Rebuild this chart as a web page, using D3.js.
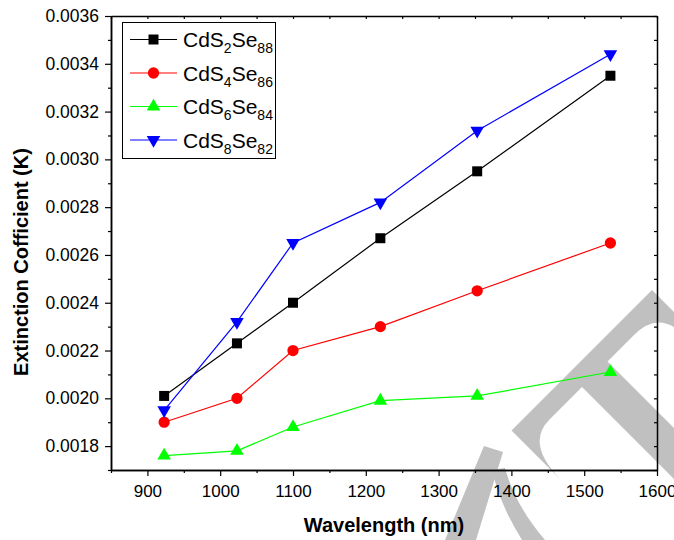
<!DOCTYPE html>
<html><head><meta charset="utf-8">
<script src="https://cdnjs.cloudflare.com/ajax/libs/d3/7.8.5/d3.min.js"></script>
<style>
html,body{margin:0;padding:0;background:#fff;}
svg{display:block;}
text{font-family:"Liberation Sans",Arial,sans-serif;}
</style></head>
<body>
<svg id="chart" width="674" height="540"></svg>
<script>
// ---- data ----
const wavelength = [923, 1023, 1100, 1220, 1353, 1536];
const cds2se88 = [0.00201, 0.00223, 0.00240, 0.00267, 0.00295, 0.00335];
const cds4se86 = [0.00190, 0.00200, 0.00220, 0.00230, 0.00245, 0.00265];
const cds6se84 = [0.00176, 0.00178, 0.00188, 0.00199, 0.00201, 0.00211];
const cds8se82 = [0.00195, 0.00232, 0.00265, 0.00282, 0.00312, 0.00344];
const sSub = ["2", "4", "6", "8"];
const seSub = ["88", "86", "84", "82"];
const xMajorTicks = [900, 1000, 1100, 1200, 1300, 1400, 1500, 1600];
const xMinorTicks = [850, 950, 1050, 1150, 1250, 1350, 1450, 1550];
const yMajorTicks = [0.0018, 0.0020, 0.0022, 0.0024, 0.0026, 0.0028, 0.0030, 0.0032, 0.0034, 0.0036];
const yMinorTicks = [0.0017, 0.0019, 0.0021, 0.0023, 0.0025, 0.0027, 0.0029, 0.0031, 0.0033, 0.0035];
const xTitle = "Wavelength (nm)";
const yTitle = "Extinction Cofficient (K)";

const series = [
  {values: cds2se88, color: "#000000", symbol: d3.symbolSquare, size: 100, rot: 0},
  {values: cds4se86, color: "#ff0000", symbol: d3.symbolCircle, size: 100, rot: 0},
  {values: cds6se84, color: "#00ff00", symbol: d3.symbolTriangle, size: 80, rot: 0},
  {values: cds8se82, color: "#0000ff", symbol: d3.symbolTriangle, size: 80, rot: 180}
];

const svg = d3.select("#chart");
const L = 111, R = 657, T = 16, B = 470;
const x = d3.scaleLinear().domain([850, 1600]).range([L, R]);
const y = d3.scaleLinear().domain([0.0017, 0.0036]).range([B, T]);

// ---- watermark (background decoration) ----
const P = (p, q) => [(q + p) / 2, (q - p) / 2];
const wm = svg.append("g").attr("fill", "#c0c0c0");
{
  const a = P(81, 942), b = P(81, 1042), cc = P(81, 969), c = P(130, 969),
        d = P(195, 969), e = P(195, 1400), f = P(246, 1400), g = P(246, 969),
        h = P(299, 969), hc = P(349, 969), i = P(349, 1019), j = P(349, 1250),
        k = P(362, 1250), l = P(362, 942);
  const path = `M${a}L${b}Q${cc} ${c}L${d}L${e}L${f}L${g}L${h}Q${hc} ${i}L${j}L${k}L${l}Z`;
  wm.append("path").attr("d", path);
  wm.append("path").attr("d", "M484,446L503,452L476,540L445,540Z");
  wm.append("path").attr("d", "M492,470Q500,505 522,540L545,540Q515,505 505,468Z");
}

// ---- axes ----
const axisStyle = fs => g => {
  g.selectAll(".domain").attr("stroke", "#000").attr("stroke-width", 1.5);
  g.selectAll(".tick line").attr("stroke", "#000").attr("stroke-width", 1.2);
  g.selectAll(".tick text").attr("fill", "#000").style("font-size", fs)
    .style("font-family", '"Liberation Sans",Arial,sans-serif');
};

// bottom
svg.append("g").attr("transform", `translate(0,${B})`)
  .call(d3.axisBottom(x).tickValues(xMinorTicks).tickSize(3).tickFormat("").tickSizeOuter(0))
  .call(axisStyle("17px"));
svg.append("g").attr("transform", `translate(0,${B})`)
  .call(d3.axisBottom(x).tickValues(xMajorTicks).tickSize(6).tickPadding(9).tickFormat(d3.format("d")).tickSizeOuter(0))
  .call(axisStyle("17px"));
// top (inward)
svg.append("g").attr("transform", `translate(0,${T})`)
  .call(d3.axisBottom(x).tickValues(xMinorTicks.concat(xMajorTicks)).tickSize(3).tickFormat("").tickSizeOuter(0))
  .call(axisStyle("17px"));
// left
svg.append("g").attr("transform", `translate(${L},0)`)
  .call(d3.axisLeft(y).tickValues(yMinorTicks).tickSize(3).tickFormat("").tickSizeOuter(0))
  .call(axisStyle("17.5px"));
svg.append("g").attr("transform", `translate(${L},0)`)
  .call(d3.axisLeft(y).tickValues(yMajorTicks).tickSize(6).tickPadding(6).tickFormat(d3.format(".4f")).tickSizeOuter(0))
  .call(axisStyle("17.5px"));
// right (inward)
svg.append("g").attr("transform", `translate(${R},0)`)
  .call(d3.axisLeft(y).tickValues(yMinorTicks.concat(yMajorTicks)).tickSize(3).tickFormat("").tickSizeOuter(0))
  .call(axisStyle("17px"));

// ---- titles ----
svg.append("text").attr("x", (L + R) / 2).attr("y", 532).attr("text-anchor", "middle")
  .style("font-size", "20px").style("font-weight", "bold").text(xTitle);
svg.append("text").attr("transform", `translate(28,262) rotate(-90)`).attr("text-anchor", "middle")
  .style("font-size", "20px").style("font-weight", "bold").text(yTitle);

// ---- lines & markers ----
const line = d3.line().x((d, i) => x(wavelength[i])).y(d => y(d));
series.forEach(s => {
  svg.append("path").datum(s.values).attr("d", line)
    .attr("fill", "none").attr("stroke", s.color).attr("stroke-width", 1.2);
  svg.append("g").selectAll("path").data(s.values).join("path")
    .attr("d", d3.symbol().type(s.symbol).size(s.size))
    .attr("transform", (d, i) => `translate(${x(wavelength[i])},${y(d)}) rotate(${s.rot})`)
    .attr("fill", s.color);
});

// ---- legend ----
const lg = svg.append("g");
lg.append("rect").attr("x", 122.5).attr("y", 22.5).attr("width", 153).attr("height", 136)
  .attr("fill", "#fff").attr("stroke", "#000").attr("stroke-width", 1);
series.forEach((s, i) => {
  const cy = 39.5 + i * 33.5;
  lg.append("line").attr("x1", 130).attr("x2", 177).attr("y1", cy).attr("y2", cy)
    .attr("stroke", s.color).attr("stroke-width", 1.2);
  lg.append("path").attr("d", d3.symbol().type(s.symbol).size(s.size))
    .attr("transform", `translate(153.5,${cy}) rotate(${s.rot})`).attr("fill", s.color);
  const t = lg.append("text").attr("x", 183).attr("y", cy + 7.5).style("font-size", "21px");
  t.append("tspan").text("CdS");
  t.append("tspan").attr("dy", 6).style("font-size", "14px").text(sSub[i]);
  t.append("tspan").attr("dy", -6).text("Se");
  t.append("tspan").attr("dy", 6).style("font-size", "14px").text(seSub[i]);
});
</script>
</body></html>
